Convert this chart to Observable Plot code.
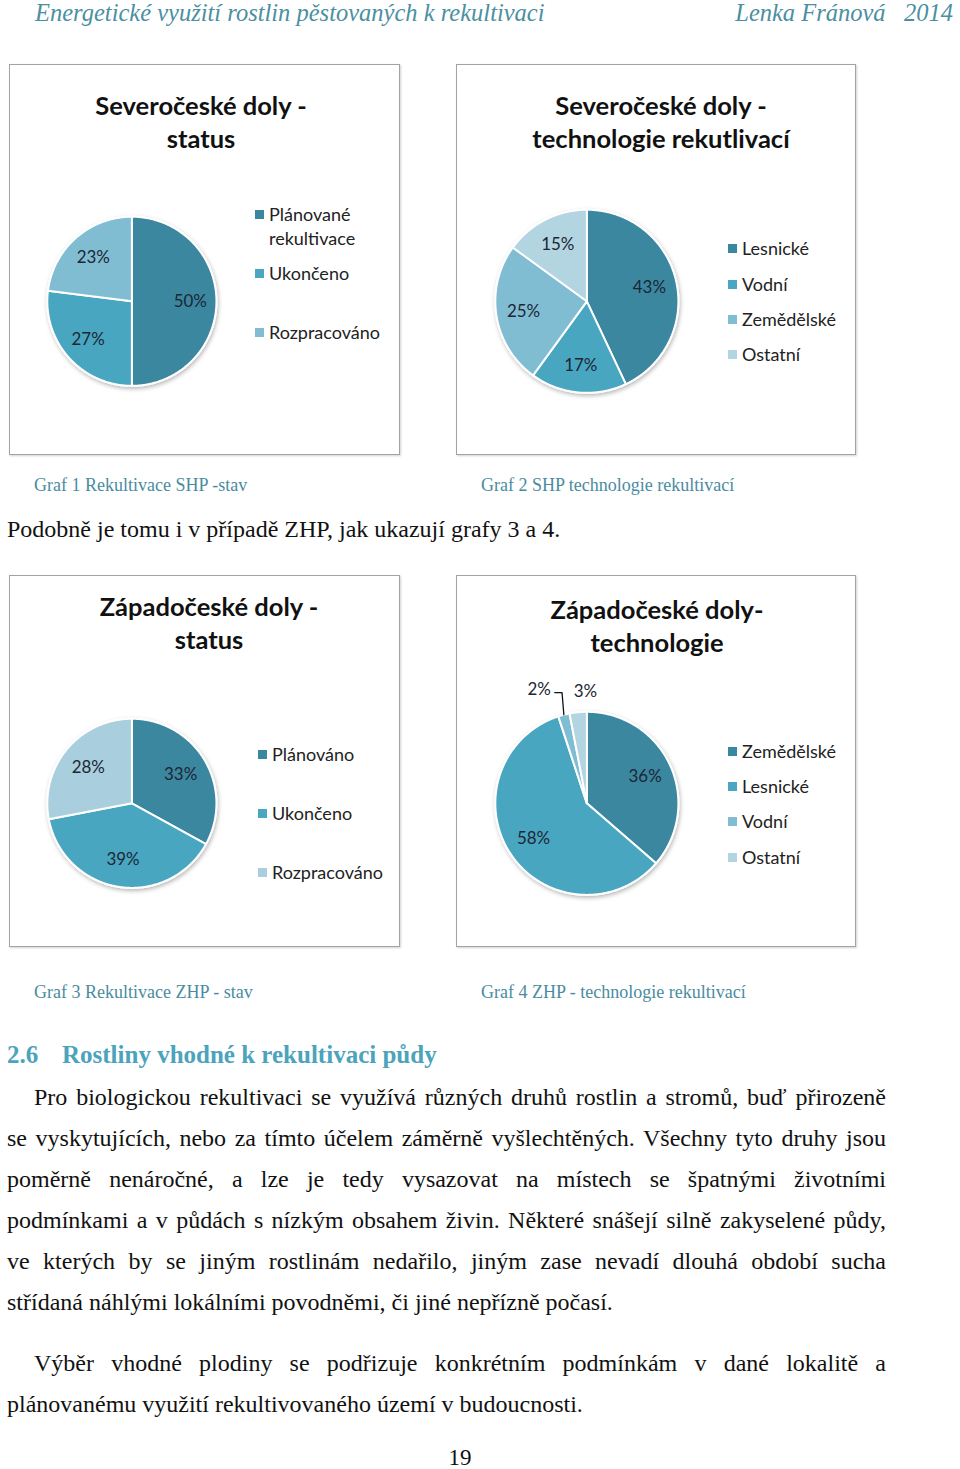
<!DOCTYPE html>
<html><head><meta charset="utf-8">
<script src="https://cdn.jsdelivr.net/npm/d3@7"></script>
<script src="https://cdn.jsdelivr.net/npm/@observablehq/plot@0.6"></script>
<style>
body{margin:0;background:#fff;}
#page{position:relative;width:960px;height:1469px;overflow:hidden;background:#fff;}
.abs{position:absolute;white-space:nowrap;}
.serif{font-family:"Liberation Serif","Times New Roman",serif;}
.box{position:absolute;border:1.5px solid #a3a3a3;box-sizing:border-box;box-shadow:1px 1px 2px rgba(0,0,0,0.18);background:#fff;}
.title{position:absolute;width:360px;text-align:center;font-family:Lato,sans-serif;font-weight:700;font-size:25.5px;line-height:33px;color:#111;}
.leg{position:absolute;font-family:Lato,sans-serif;font-size:18px;line-height:24px;color:#222;white-space:normal;}
.sw{position:absolute;width:9px;height:9px;left:-14px;top:8px;}
.cap{font-size:18px;color:#4a8c9f;line-height:22px;}
.line{position:absolute;font-family:"Liberation Serif",serif;font-size:24px;line-height:30px;color:#111;text-align:justify;text-align-last:justify;white-space:normal;}
.last{text-align-last:left;}
</style></head><body>
<div id="page"></div>
<script>
// ---- data ----
const shpStatusLabels = ["Plánované rekultivace", "Ukončeno", "Rozpracováno"];
const shpStatusValues = [50, 27, 23];
const shpTechLabels = ["Lesnické", "Vodní", "Zemědělské", "Ostatní"];
const shpTechValues = [43, 17, 25, 15];
const zhpStatusLabels = ["Plánováno", "Ukončeno", "Rozpracováno"];
const zhpStatusValues = [33, 39, 28];
const zhpTechLabels = ["Zemědělské", "Lesnické", "Vodní", "Ostatní"];
const zhpTechValues = [36, 58, 2, 3];

const chartTitles = [
  ["Severočeské doly -", "status"],
  ["Severočeské doly -", "technologie rekutlivací"],
  ["Západočeské doly -", "status"],
  ["Západočeské doly-", "technologie"]
];
const captions = [
  "Graf 1 Rekultivace SHP -stav",
  "Graf 2 SHP technologie rekultivací",
  "Graf 3 Rekultivace ZHP - stav",
  "Graf 4 ZHP - technologie rekultivací"
];
const headerLeft = "Energetické využití rostlin pěstovaných k rekultivaci";
const headerRight = "Lenka Fránová   2014";
const introText = "Podobně je tomu i v případě ZHP, jak ukazují grafy 3 a 4.";
const sectionNum = "2.6";
const sectionTitle = "Rostliny vhodné k rekultivaci půdy";
const para1 = [
  "Pro biologickou rekultivaci se využívá různých druhů rostlin a stromů, buď přirozeně",
  "se vyskytujících, nebo za tímto účelem záměrně vyšlechtěných. Všechny tyto druhy jsou",
  "poměrně nenáročné, a lze je tedy vysazovat na místech se špatnými životními",
  "podmínkami a v půdách s nízkým obsahem živin. Některé snášejí silně zakyselené půdy,",
  "ve kterých by se jiným rostlinám nedařilo, jiným zase nevadí dlouhá období sucha",
  "střídaná náhlými lokálními povodněmi, či jiné nepřízně počasí."
];
const para2 = [
  "Výběr vhodné plodiny se podřizuje konkrétním podmínkám v dané lokalitě a",
  "plánovanému využití rekultivovaného území v budoucnosti."
];
const pageNumber = "19";

const dark = "#3a87a0", mid = "#4aa6c1", light = "#80bdd3", lightest = "#b3d4e1", pale = "#a9cfde";

const charts = [
  {box:[9,64,391,391], labels:shpStatusLabels, values:shpStatusValues, colors:[dark, mid, light],
   cx:122, cy:237, R:85, titleX:191, titleY:40, legX:259, legY:[149,208,267], legW:120, k:0.69},
  {box:[456,64,400,391], labels:shpTechLabels, values:shpTechValues, colors:[dark, mid, light, lightest],
   cx:130, cy:237, R:92, titleX:204, titleY:40, legX:285, legY:[183,219,254,289], legW:140, k:0.7},
  {box:[9,575,391,372], labels:zhpStatusLabels, values:zhpStatusValues, colors:[dark, mid, pale],
   cx:122, cy:228, R:85, titleX:199, titleY:30, legX:262, legY:[178,237,296], legW:140, k:0.67},
  {box:[456,575,400,372], labels:zhpTechLabels, values:zhpTechValues, colors:[dark, mid, light, lightest],
   cx:130, cy:228, R:92, titleX:200, titleY:33, legX:285, legY:[175,210,245,281], legW:140, k:0.7}
];
const captionPos = [[34,485],[481,485],[34,992],[481,992]];

const page = document.getElementById("page");
function addDiv(cls, text, left, top, extra) {
  const d = document.createElement("div");
  d.className = cls;
  d.textContent = text;
  d.style.left = left + "px";
  d.style.top = top + "px";
  if (extra) Object.assign(d.style, extra);
  return d;
}

function pie(c, idx) {
  const arcs = d3.pie().sort(null).value(d => d)(c.values);
  const slices = arcs.map((a, i) => ({label: c.labels[i], value: c.values[i], a0: a.startAngle, a1: a.endAngle, mid: (a.startAngle + a.endAngle) / 2}));
  const pts = slices.flatMap(s => {
    const n = Math.max(2, Math.ceil((s.a1 - s.a0) / 0.01));
    return [{label: s.label, x: 0, y: 0}, ...d3.range(n + 1).map(j => {
      const a = s.a0 + (s.a1 - s.a0) * j / n;
      return {label: s.label, x: Math.sin(a), y: Math.cos(a)};
    })];
  });
  const inside = slices.filter(s => s.value >= 5);
  const small = slices.filter(s => s.value < 5);
  const leaders = [];
  small.forEach((s, j) => {
    const ox = Math.sin(s.mid), oy = Math.cos(s.mid);
    if (j === small.length - 1) { s.lx = ox + 0.08; s.ly = 1.22; }
    else {
      s.lx = ox - 0.27; s.ly = 1.24;
      leaders.push({id: j, x: ox, y: oy}, {id: j, x: ox - 0.02, y: 1.21}, {id: j, x: ox - 0.1, y: 1.21});
    }
  });
  const [bx, by, bw, bh] = c.box;
  const svg = Plot.plot({
    width: bw, height: bh, margin: 0,
    x: {domain: [-1, 1], range: [c.cx - c.R, c.cx + c.R], axis: null},
    y: {domain: [-1, 1], range: [c.cy + c.R, c.cy - c.R], axis: null},
    color: {domain: c.labels, range: c.colors},
    style: {background: "transparent", overflow: "visible", fontFamily: "Lato, sans-serif"},
    marks: [
      Plot.line(pts, {x: "x", y: "y", z: "label", fill: "label", stroke: "white", strokeWidth: 2, strokeLinejoin: "round", curve: "linear-closed"}),
      Plot.text(inside, {x: s => c.k * Math.sin(s.mid), y: s => c.k * Math.cos(s.mid), text: s => s.value + "%", fontSize: 17, fill: "#1c2634"}),
      Plot.line(leaders, {x: "x", y: "y", z: "id", stroke: "#111", strokeWidth: 1.3}),
      Plot.text(small, {x: "lx", y: "ly", text: s => s.value + "%", fontSize: 17, fill: "#1c2634"})
    ]
  });
  const ns = "http://www.w3.org/2000/svg";
  const defs = document.createElementNS(ns, "defs");
  defs.innerHTML = `<filter id="sh${idx}" x="-20%" y="-20%" width="140%" height="140%"><feDropShadow dx="1" dy="2" stdDeviation="2" flood-color="#000" flood-opacity="0.28"/></filter>`;
  svg.insertBefore(defs, svg.firstChild);
  const g = svg.querySelector('g[aria-label="line"]');
  if (g) g.setAttribute("filter", `url(#sh${idx})`);
  svg.style.position = "absolute";
  svg.style.left = "0px";
  svg.style.top = "0px";
  return svg;
}

charts.forEach((c, i) => {
  const [bx, by, bw, bh] = c.box;
  const box = document.createElement("div");
  box.className = "box";
  Object.assign(box.style, {left: bx + "px", top: by + "px", width: bw + "px", height: bh + "px"});
  page.appendChild(box);
  const t = addDiv("title", "", c.titleX - 180, c.titleY - 16.5);
  t.innerHTML = chartTitles[i].join("<br>");
  box.appendChild(t);
  box.appendChild(pie(c, i));
  c.labels.forEach((lab, j) => {
    const d = addDiv("leg", lab, c.legX, c.legY[j] - 12, {width: c.legW + "px"});
    const sw = document.createElement("span");
    sw.className = "sw";
    sw.style.background = c.colors[j];
    d.appendChild(sw);
    box.appendChild(d);
  });
  page.appendChild(addDiv("abs serif cap", captions[i], captionPos[i][0], captionPos[i][1] - 11));
});

// header
page.appendChild(addDiv("abs serif", headerLeft, 35, 0, {fontStyle: "italic", fontSize: "24.5px", color: "#4b8fa1", lineHeight: "26px"}));
page.appendChild(addDiv("abs serif", headerRight, 0, 0, {fontStyle: "italic", fontSize: "24.5px", color: "#4b8fa1", lineHeight: "26px", width: "953px", textAlign: "right", whiteSpace: "pre"}));
// intro
page.appendChild(addDiv("abs serif", introText, 7, 514, {fontSize: "24px", lineHeight: "30px", color: "#111"}));
// section heading
page.appendChild(addDiv("abs serif", sectionNum, 7, 1040, {fontSize: "25px", fontWeight: "700", color: "#4ba3bc", lineHeight: "30px"}));
page.appendChild(addDiv("abs serif", sectionTitle, 62, 1040, {fontSize: "25px", fontWeight: "700", color: "#4ba3bc", lineHeight: "30px"}));
// paragraphs
const p1Y = [1097, 1138, 1179, 1220, 1261, 1302];
para1.forEach((s, i) => {
  const left = i === 0 ? 34 : 7;
  page.appendChild(addDiv("line" + (i === para1.length - 1 ? " last" : ""), s, left, p1Y[i] - 15, {width: (886 - left) + "px"}));
});
const p2Y = [1363, 1404];
para2.forEach((s, i) => {
  const left = i === 0 ? 34 : 7;
  page.appendChild(addDiv("line" + (i === para2.length - 1 ? " last" : ""), s, left, p2Y[i] - 15, {width: (886 - left) + "px"}));
});
page.appendChild(addDiv("abs serif", pageNumber, 430, 1443, {fontSize: "23px", width: "60px", textAlign: "center", lineHeight: "30px", color: "#111"}));
</script>
</body></html>
